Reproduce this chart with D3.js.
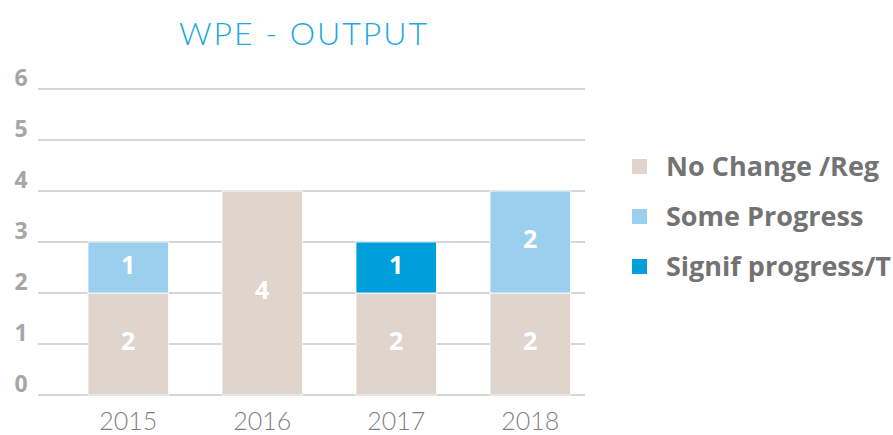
<!DOCTYPE html>
<html><head><meta charset="utf-8">
<script src="https://cdn.jsdelivr.net/npm/d3@7"></script>
<style>body{margin:0;background:#fff}</style>
</head><body>
<svg id="c" width="893" height="435"></svg>
<script>
const categories = ["2015","2016","2017","2018"];
const seriesNames = ["No Change /Reg","Some Progress","Signif progress/T"];
const noChange = [2,4,2,2];
const someProgress = [1,0,0,2];
const signifProgress = [0,0,1,0];
const yTicks = [0,1,2,3,4,5,6];
const colors = ["#dfd5cd","#9bcfee","#009fdb"];

const svg = d3.select("#c");
const x = d3.scaleBand().domain(categories).range([61.2,597.2]).paddingInner(0.4).paddingOuter(0.2);
const y = d3.scaleLinear().domain([0,6]).range([395,89]);

// gridlines
svg.append("g").selectAll("line").data(yTicks).join("line")
  .attr("x1",38).attr("x2",585).attr("y1",d=>y(d)).attr("y2",d=>y(d))
  .attr("stroke","#c9c9c9").attr("stroke-width",1.3);
svg.append("g").selectAll("text").data(yTicks).join("text")
  .attr("x",21).attr("y",d=>y(d)-3).attr("text-anchor","middle")
  .attr("font-family","Open Sans, sans-serif").attr("font-weight","bold").attr("font-size",23)
  .attr("fill","#a6a6a6").text(d=>d);

const rows = categories.map((c,i)=>({cat:c, v:[noChange[i],someProgress[i],signifProgress[i]]}));
const stackData = rows.map(r=>({cat:r.cat, s0:r.v[0], s1:r.v[1], s2:r.v[2]}));
const stack = d3.stack().keys(["s0","s1","s2"])(stackData);

const g = svg.append("g");
stack.forEach((layer,li)=>{
  layer.forEach(d=>{
    if (d[1]-d[0] <= 0) return;
    g.append("rect").attr("x",x(d.data.cat)).attr("width",x.bandwidth())
      .attr("y",y(d[1])).attr("height",y(d[0])-y(d[1]))
      .attr("fill",colors[li]).attr("stroke","#fff").attr("stroke-width",0.8);
    g.append("text").attr("x",x(d.data.cat)+x.bandwidth()/2).attr("y",(y(d[0])+y(d[1]))/2+6)
      .attr("text-anchor","middle").attr("font-family","Open Sans, sans-serif").attr("font-weight","bold")
      .attr("font-size",25).attr("fill","#fff").text(d[1]-d[0]);
  });
});

// x labels
svg.append("g").selectAll("text").data(categories).join("text")
  .attr("x",d=>x(d)+x.bandwidth()/2).attr("y",430).attr("text-anchor","middle")
  .attr("font-family","Lato, sans-serif").attr("font-weight",300).attr("font-size",25)
  .attr("fill","#7f7f7f").text(d=>d);

// title
svg.append("text").attr("x",304).attr("y",45).attr("text-anchor","middle")
  .attr("font-family","Lato, sans-serif").attr("font-weight",300).attr("font-size",32)
  .attr("letter-spacing",2).attr("fill","#1ea7e1").text("WPE - OUTPUT");

// legend
const lg = svg.append("g");
seriesNames.forEach((n,i)=>{
  const cy = 166 + i*50;
  lg.append("rect").attr("x",632).attr("y",cy-7).attr("width",15).attr("height",15).attr("fill",colors[i]);
  lg.append("text").attr("x",666).attr("y",cy+10).attr("font-family","Open Sans, sans-serif")
    .attr("font-weight","bold").attr("font-size",27).attr("fill","#737373").text(n);
});
</script>
</body></html>
